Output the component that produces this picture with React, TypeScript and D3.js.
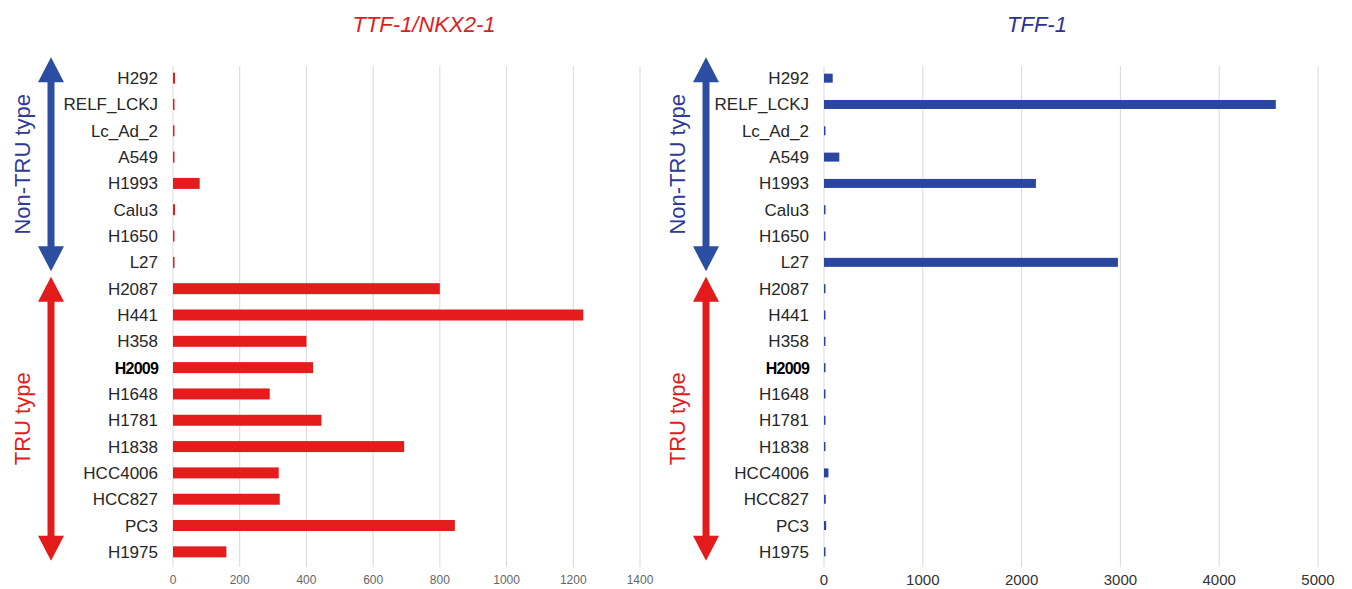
import React from "react";
import * as d3 from "d3";

const categories = [
  "H292", "RELF_LCKJ", "Lc_Ad_2", "A549", "H1993", "Calu3", "H1650", "L27",
  "H2087", "H441", "H358", "H2009", "H1648", "H1781", "H1838", "HCC4006", "HCC827", "PC3", "H1975",
];
const ttf1Values = [6, 3, 3, 3, 80, 6, 3, 3, 800, 1230, 400, 420, 290, 445, 693, 317, 320, 845, 160];
const tff1Values = [88, 4573, 6, 155, 2145, 10, 8, 2975, 10, 12, 12, 12, 12, 12, 12, 45, 18, 22, 12];
const ttf1Ticks = [0, 200, 400, 600, 800, 1000, 1200, 1400];
const tff1Ticks = [0, 1000, 2000, 3000, 4000, 5000];
const groups = [
  { label: "Non-TRU type", first: "H292", last: "L27", color: "#2b4ea3", text: "#2e3a93" },
  { label: "TRU type", first: "H2087", last: "H1975", color: "#e41b1b", text: "#e41b1b" },
];

const W = 1352;
const H = 589;
const FONT = "'Liberation Sans', Arial, sans-serif";

const y = d3.scaleBand<string>().domain(categories).range([65, 565]);

function Arrow({ x, y1, y2, color }: { x: number; y1: number; y2: number; color: string }) {
  const hw = 13, hl = 25, sw = 3.5;
  const d = `M${x},${y1} L${x + hw},${y1 + hl} L${x + sw},${y1 + hl} L${x + sw},${y2 - hl} L${x + hw},${y2 - hl} L${x},${y2} L${x - hw},${y2 - hl} L${x - sw},${y2 - hl} L${x - sw},${y1 + hl} L${x - hw},${y1 + hl} Z`;
  return <path d={d} fill={color} />;
}

function Panel({
  title, titleColor, titleX, values, ticks, x0, x1, max, barColor, barH, labelX, arrowX, groupTextX, tickFont, tickColor, tickY,
}: any) {
  const x = d3.scaleLinear().domain([0, max]).range([x0, x1]);
  const bw = y.bandwidth();
  return (
    <g>
      <text x={titleX} y={32} textAnchor="middle" fontFamily={FONT} fontStyle="italic" fontSize={22} fill={titleColor}>
        {title}
      </text>
      {ticks.map((t: number) => (
        <line key={t} x1={x(t)} x2={x(t)} y1={66} y2={567} stroke="#d9d9d9" strokeWidth={1} />
      ))}
      {ticks.map((t: number) => (
        <text key={"t" + t} x={x(t)} y={tickY} textAnchor="middle" fontFamily={FONT} fontSize={tickFont} fill={tickColor}>
          {t}
        </text>
      ))}
      {categories.map((c, i) => (
        <rect key={c} x={x(0)} y={(y(c) as number) + bw / 2 - barH / 2} width={Math.max(1.5, x(values[i]) - x(0))} height={barH} fill={barColor} />
      ))}
      {categories.map((c) => (
        <text key={"l" + c} x={labelX} y={(y(c) as number) + bw / 2 + 6} textAnchor="end" fontFamily={FONT}
          fontSize={c === "H2009" ? 16 : 17} fontWeight={c === "H2009" ? "bold" : "normal"} fill={c === "H2009" ? "#000" : "#262626"}
          letterSpacing={c === "H2009" ? -0.8 : 0}>
          {c}
        </text>
      ))}
      {groups.map((g, gi) => {
        const top = (y(g.first) as number) + bw / 2 - (gi === 0 ? 21 : 12);
        const bot = (y(g.last) as number) + bw / 2 + 9;
        const cy = (top + bot) / 2;
        return (
          <g key={g.label}>
            <Arrow x={arrowX} y1={top} y2={bot} color={g.color} />
            <text transform={`translate(${groupTextX},${cy}) rotate(-90)`} textAnchor="middle" dominantBaseline="central"
              fontFamily={FONT} fontSize={22} fill={g.text}>
              {g.label}
            </text>
          </g>
        );
      })}
    </g>
  );
}

export default function App() {
  return (
    <svg width={W} height={H} style={{ position: "absolute", left: 0, top: 0, background: "#fff" }}>
      <rect width={W} height={H} fill="#fff" />
      <Panel title="TTF-1/NKX2-1" titleColor="#e01b22" titleX={424} values={ttf1Values} ticks={ttf1Ticks}
        x0={173} x1={640} max={1400} barColor="#e41c1c" barH={11} labelX={158} arrowX={51} groupTextX={22}
        tickFont={12} tickColor="#666" tickY={584} />
      <Panel title="TFF-1" titleColor="#2e3192" titleX={1037} values={tff1Values} ticks={tff1Ticks}
        x0={824} x1={1318} max={5000} barColor="#2a46a0" barH={9} labelX={809} arrowX={706} groupTextX={677}
        tickFont={15} tickColor="#333" tickY={585} />
    </svg>
  );
}
